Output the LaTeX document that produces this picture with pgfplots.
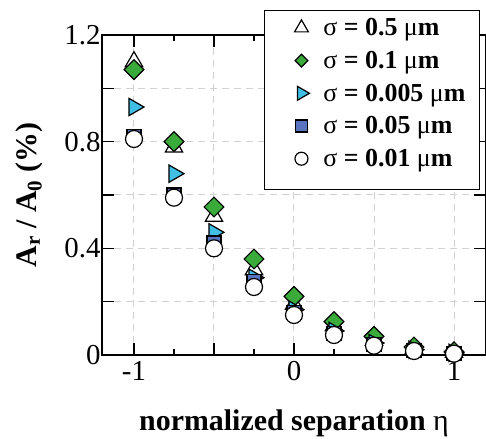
\documentclass[border=0pt]{standalone}
\usepackage{fontspec}
\setmainfont{Liberation Serif}
\usepackage{pgfplots}
\pgfplotsset{compat=1.18}

\definecolor{mkgreen}{RGB}{58,170,58}
\definecolor{mkcyan}{RGB}{64,190,228}
\definecolor{mkblue}{RGB}{88,116,190}

% legend mark: size, extra depth below
\pgfplotsset{leg/.style 2 args={legend image code/.code={%
  \draw[##1, mark size=#1] plot coordinates {(0.3cm,0cm)};
  \path (-16bp,0bp) (0.3cm,#2);}}}

\begin{document}
\begin{tikzpicture}
\begin{axis}[
  name=ax,
  scale only axis,
  width=384bp, height=320bp,
  xmin=-1.2, xmax=1.2,
  ymin=0, ymax=1.2,
  xtick={-1,-0.5,0,0.5,1},
  xticklabels={-1,,0,,1},
  minor x tick num=1,
  ytick={0,0.2,0.4,0.6,0.8,1.0,1.2},
  yticklabels={0,,0.4,,0.8,,1.2},
  major tick length=12bp,
  minor tick length=6bp,
  every tick/.style={black, line width=1.4bp},
  axis line style={line width=1.6bp},
  grid=major,
  major grid style={gray!35, dashed, dash pattern=on 7bp off 5bp, line width=1bp},
  tick label style={font=\fontsize{29}{33}\selectfont},
  xticklabel style={yshift=-3bp},
  yticklabel style={xshift=2bp},
  xlabel={\textbf{normalized separation} η},
  ylabel={\textbf{A\textsubscript{r} / A\textsubscript{0} (\%)}},
  label style={font=\fontsize{30}{34}\selectfont},
  xlabel style={at={(axis description cs:0.5,-0.215)}, anchor=center},
  ylabel style={at={(axis description cs:-0.19,0.5)}, anchor=center},
  legend style={at={(0.984,1.078)}, anchor=north east, draw=black,
    line width=1bp, fill=white,
    font=\fontsize{26}{30}\selectfont\bfseries,
    inner xsep=12bp, inner ysep=6bp,
    row sep=10bp, column sep=12bp},
  legend cell align=left,
  every axis plot/.append style={only marks, line width=1.2bp, mark options={draw=black}},
]
\addplot[mark=triangle*, mark size=10bp, mark options={fill=white}, leg={8bp}{0bp}] coordinates {
(-1,1.10) (-0.75,0.78) (-0.5,0.52) (-0.25,0.32) (0,0.19) (0.25,0.11) (0.5,0.055) (0.75,0.025) (1,0.01)};
\addplot[mark=square*, mark size=7bp, mark options={rotate=45, fill=mkgreen}, leg={4.5bp}{0bp}] coordinates {
(-1,1.07) (-0.75,0.80) (-0.5,0.555) (-0.25,0.36) (0,0.22) (0.25,0.125) (0.5,0.07) (0.75,0.03) (1,0.012)};
\addplot[mark=triangle*, mark size=10bp, mark options={rotate=-90, fill=mkcyan}, leg={8bp}{0bp}] coordinates {
(-1,0.93) (-0.75,0.68) (-0.5,0.46) (-0.25,0.29) (0,0.17) (0.25,0.09) (0.5,0.045) (0.75,0.02) (1,0.008)};
\addplot[mark=square*, mark size=7bp, mark options={fill=mkblue}, leg={6bp}{0bp}] coordinates {
(-1,0.82) (-0.75,0.60) (-0.5,0.42) (-0.25,0.275) (0,0.16) (0.25,0.08) (0.5,0.038) (0.75,0.016) (1,0.006)};
\addplot[mark=*, mark size=8.5bp, mark options={fill=white}, leg={6.5bp}{-24bp}] coordinates {
(-1,0.81) (-0.75,0.59) (-0.5,0.40) (-0.25,0.255) (0,0.15) (0.25,0.075) (0.5,0.035) (0.75,0.015) (1,0.005)};
\legend{{\mdseries σ} = 0.5 {\mdseries μ}m,
        {\mdseries σ} = 0.1 {\mdseries μ}m,
        {\mdseries σ} = 0.005 {\mdseries μ}m,
        {\mdseries σ} = 0.05 {\mdseries μ}m,
        {\mdseries σ} = 0.01 {\mdseries μ}m}
\end{axis}
\pgfresetboundingbox
\path ([xshift=-102bp,yshift=-84bp]ax.south west) rectangle ([yshift=35bp]ax.north east);
\end{tikzpicture}
\end{document}
